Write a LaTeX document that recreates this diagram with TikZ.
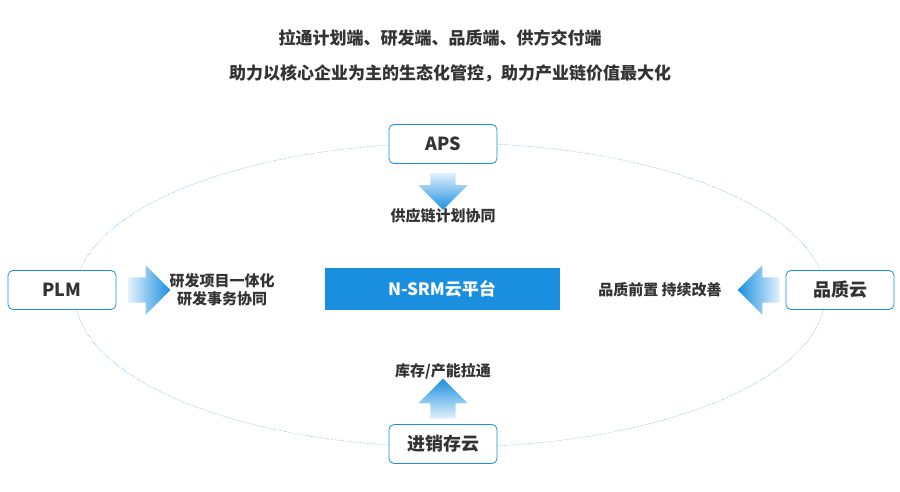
\documentclass[tikz,border=0pt]{standalone}
\usepackage{fontspec}
\setmainfont{Noto Sans CJK SC}
\usetikzlibrary{shapes.arrows}
\definecolor{srmblue}{HTML}{1A8FE0}
\definecolor{lightblue}{HTML}{E3F1FC}
\definecolor{txtgray}{HTML}{333333}
\tikzset{
  sysbox/.style={draw=srmblue, thick, rounded corners=5pt, fill=white, minimum width=108pt, minimum height=39pt, font=\bfseries\fontsize{18}{18}\selectfont, text=txtgray},
  flowarrow/.style={single arrow, draw=none, inner xsep=0pt, inner ysep=12.5pt, single arrow head extend=12pt, single arrow head indent=0pt},
  lbl/.style={font=\bfseries\fontsize{15}{18}\selectfont, text=txtgray, align=center}
}
\begin{document}
\begin{tikzpicture}[x=1pt,y=-1pt]
  \useasboundingbox (0,0) rectangle (900,491);
  \node[font=\bfseries\fontsize{17}{17}\selectfont, text=txtgray] (t1) at (440,38) {拉通计划端、研发端、品质端、供方交付端};
  \node[font=\bfseries\fontsize{17}{17}\selectfont, text=txtgray] (t2) at (450,73) {助力以核心企业为主的生态化管控，助力产业链价值最大化};
  % ring
  \draw[srmblue, densely dotted, thin] (450,295) ellipse (375pt and 152pt);
  \node[fill=srmblue, minimum width=235pt, minimum height=42pt, text=white, font=\bfseries\fontsize{17}{17}\selectfont] (srm) at (442,289) {N-SRM云平台};
  \node[sysbox] (aps) at (443,144) {APS};
  \node[sysbox] (plm) at (62,290) {PLM};
  \node[sysbox] (qc) at (840,290) {品质云};
  \node[sysbox] (jxc) at (443,444) {进销存云};
  % arrows
  \node[flowarrow, rotate=-90, minimum height=37pt, top color=lightblue, bottom color=srmblue, shading angle=0] (a1) at (443,185) {};
  \node[flowarrow, minimum height=42pt, left color=lightblue, right color=srmblue] (a2) at (143,290) {};
  \node[flowarrow, rotate=180, minimum height=42pt, left color=srmblue, right color=lightblue] (a3) at (765,290) {};
  \node[flowarrow, rotate=90, minimum height=40pt, top color=srmblue, bottom color=lightblue] (a4) at (443,405) {};
  \node[lbl] (l1) at (443,216) {供应链计划协同};
  \node[lbl] (l2) at (222,290) {研发项目一体化\\研发事务协同};
  \node[lbl] (l3) at (660,290) {品质前置 持续改善};
  \node[lbl] (l4) at (443,371) {库存/产能拉通};
\end{tikzpicture}
\end{document}
